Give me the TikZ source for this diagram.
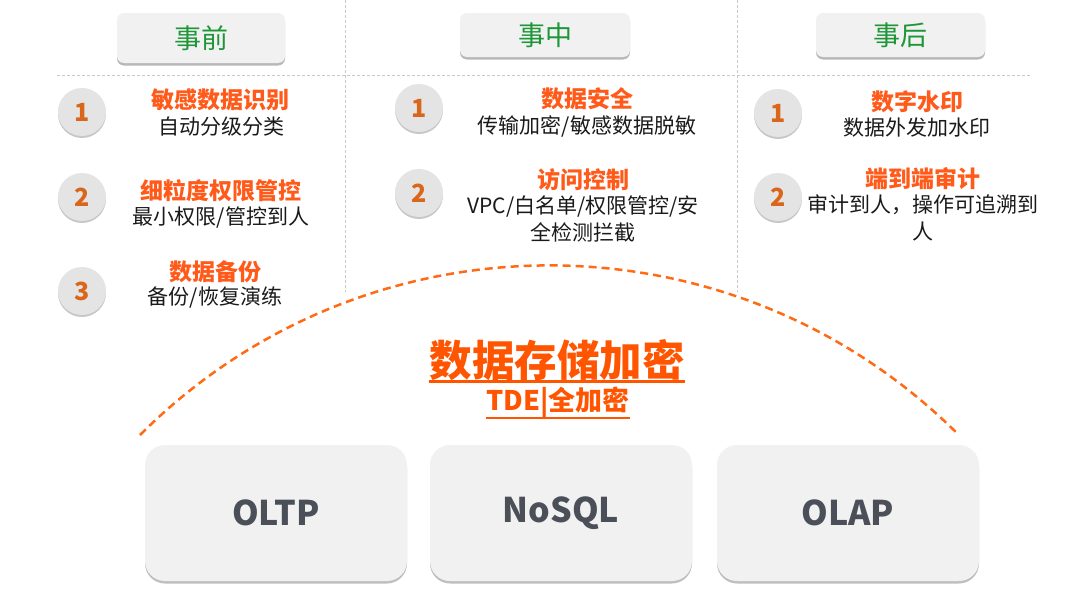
\documentclass[tikz,border=0pt]{standalone}
\usepackage{fontspec}
\setmainfont{Noto Sans CJK SC}
\usetikzlibrary{shadows}
\definecolor{hdrgreen}{HTML}{1E9638}
\definecolor{hdrfill}{HTML}{F1F1F1}
\definecolor{orgtitle}{HTML}{FF5A1A}
\definecolor{numorange}{HTML}{D9661A}
\definecolor{circfill}{HTML}{E4E4E4}
\definecolor{subtext}{HTML}{1A1A1A}
\definecolor{gridgray}{HTML}{C8C8C8}
\definecolor{arcorange}{HTML}{FF6A13}
\definecolor{bigorange}{HTML}{FF5500}
\definecolor{boxfill}{HTML}{F1F1F1}
\definecolor{boxtext}{HTML}{4B5058}
\begin{document}
\begin{tikzpicture}[x=1pt,y=-1pt,
  hdr/.style={fill=hdrfill, rounded corners=7pt, inner sep=0pt,
    drop shadow={shadow xshift=0pt, shadow yshift=-2.5pt, fill=black, opacity=0.28},
    text=hdrgreen, font=\fontsize{27}{32}\selectfont},
  numc/.style={circle, fill=circfill, minimum size=48pt, inner sep=0pt,
    drop shadow={shadow xshift=0pt, shadow yshift=-2pt, fill=black, opacity=0.22},
    text=numorange, font=\bfseries\fontsize{25}{28}\selectfont},
  ttl/.style={text=orgtitle, inner sep=0pt, font=\bfseries\fontsize{23}{27}\selectfont},
  sub/.style={text=subtext, inner sep=0pt, align=center, font=\fontsize{21}{26.5}\selectfont},
  grid/.style={draw=gridgray, line width=0.8pt, dash pattern=on 3pt off 2pt},
  dbbox/.style={fill=boxfill, rounded corners=20pt, minimum width=262pt, minimum height=136pt,
    inner sep=0pt,
    drop shadow={shadow xshift=0pt, shadow yshift=-2.5pt, fill=black, opacity=0.25},
    text=boxtext, font=\bfseries\fontsize{34}{40}\selectfont}
]
\useasboundingbox[fill=white] (0,0) rectangle (1080,597);

% grid lines
\draw[grid] (57,75) -- (1032,75);
\draw[grid] (345,0) -- (345,292);
\draw[grid] (737,0) -- (737,292);

% headers
\node[hdr, minimum width=168pt, minimum height=50pt] (h1) at (201,38) {事前};
\node[hdr, minimum width=170pt, minimum height=44pt] (h2) at (545,35) {事中};
\node[hdr, minimum width=169pt, minimum height=44pt] (h3) at (900.5,35) {事后};

% column 1
\node[numc] (c11) at (82,112) {1};
\node[ttl] (t11) at (220,100) {敏感数据识别};
\node[sub] (s11) at (221,127) {自动分级分类};
\node[numc] (c12) at (82,197) {2};
\node[ttl] (t12) at (221,191) {细粒度权限管控};
\node[sub] (s12) at (221,218) {最小权限/管控到人};
\node[numc] (c13) at (82,291) {3};
\node[ttl] (t13) at (215,272) {数据备份};
\node[sub] (s13) at (215,298) {备份/恢复演练};

% column 2
\node[numc] (c21) at (419,108) {1};
\node[ttl] (t21) at (587,99) {数据安全};
\node[sub] (s21) at (587,126) {传输加密/敏感数据脱敏};
\node[numc] (c22) at (419,193) {2};
\node[ttl] (t22) at (583,180) {访问控制};
\node[sub] (s22) at (583,219) {VPC/白名单/权限管控/安\\全检测拦截};

% column 3
\node[numc] (c31) at (778,113) {1};
\node[ttl] (t31) at (917,102) {数字水印};
\node[sub] (s31) at (917,128) {数据外发加水印};
\node[numc] (c32) at (778,197) {2};
\node[ttl] (t32) at (923,179) {端到端审计};
\node[sub] (s32) at (923,218) {审计到人，操作可追溯到\\人};

% arc
\draw[arcorange, line width=2.5pt, dash pattern=on 8pt off 5pt]
  (140,435) arc[start angle=135, end angle=45, radius=579pt];

% storage encryption title
\node[text=bigorange, inner sep=0pt, font=\bfseries\fontsize{42.5}{48}\selectfont] (big) at (557,360) {数据存储加密};
\draw[bigorange, line width=3pt] (big.west |- 0,381) -- (big.east |- 0,381);
\node[text=bigorange, inner sep=0pt, font=\bfseries\fontsize{27}{30}\selectfont] (tde) at (558,403) {TDE|全加密};
\draw[bigorange, line width=2pt] (tde.west |- 0,418) -- (tde.east |- 0,418);

% database boxes
\node[dbbox] (b1) at (276,513) {OLTP};
\node[dbbox] (b2) at (561,513) {NoSQL};
\node[dbbox] (b3) at (848,513) {OLAP};
\end{tikzpicture}
\end{document}
